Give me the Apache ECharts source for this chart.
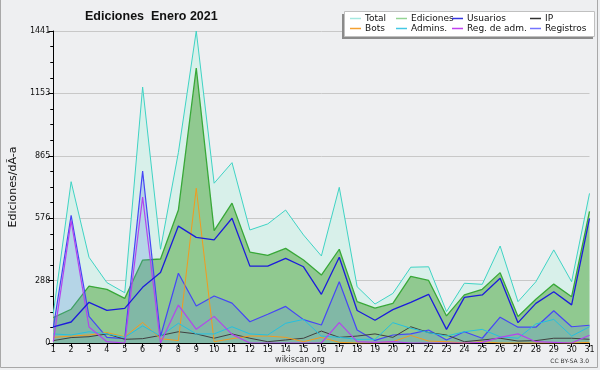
<!DOCTYPE html>
<html><head><meta charset="utf-8">
<script src="https://cdn.jsdelivr.net/npm/echarts@6/dist/echarts.min.js"></script>
<style>html,body{margin:0;padding:0;background:#eeeff1}#c{width:600px;height:370px}</style>
</head><body><div id="c"></div>
<script>
const days = ['1','2','3','4','5','6','7','8','9','10','11','12','13','14','15','16','17','18','19','20','21','22','23','24','25','26','27','28','29','30','31'];
const yTicks = [0, 288, 576, 865, 1153, 1441];
const total = [135, 745, 396, 279, 232, 1182, 433, 880, 1441, 738, 833, 522, 550, 614, 499, 402, 719, 260, 180, 229, 350, 352, 145, 276, 271, 448, 191, 283, 430, 283, 691];
const ediciones = [117, 156, 263, 248, 206, 383, 388, 614, 1270, 519, 646, 420, 405, 437, 383, 314, 433, 191, 161, 183, 308, 289, 125, 222, 248, 325, 122, 202, 272, 214, 608];
const usuarios = [75, 97, 188, 151, 160, 257, 326, 540, 488, 476, 576, 355, 355, 391, 352, 225, 396, 150, 105, 154, 188, 225, 63, 211, 222, 299, 94, 183, 237, 176, 576];
const ip = [11, 25, 29, 42, 17, 20, 35, 52, 42, 22, 42, 22, 6, 14, 22, 55, 26, 32, 42, 26, 75, 48, 37, 6, 14, 22, 9, 11, 22, 22, 17];
const bots = [26, 32, 37, 48, 29, 95, 20, 11, 715, 6, 20, 32, 32, 26, 6, 26, 3, 0, 0, 6, 35, 9, 6, 0, 6, 0, 0, 0, 0, 0, 3];
const admins = [42, 37, 52, 42, 26, 79, 32, 91, 42, 42, 75, 42, 37, 91, 109, 32, 26, 17, 17, 94, 68, 48, 32, 52, 63, 29, 22, 88, 109, 32, 75];
const regadm = [6, 565, 74, 6, 0, 674, 0, 175, 63, 123, 40, 0, 0, 0, 0, 0, 94, 6, 3, 6, 0, 0, 0, 0, 3, 26, 42, 6, 3, 0, 36];
const registros = [70, 590, 123, 26, 20, 794, 30, 322, 171, 217, 184, 98, 133, 169, 108, 83, 283, 60, 12, 37, 42, 60, 14, 52, 22, 119, 73, 73, 149, 75, 82];

const F = 'DejaVu Sans';
const chart = echarts.init(document.getElementById('c'), null, {renderer: 'canvas'});

function line(name, data, color, width, area, z) {
  const s = {name, type: 'line', data, symbol: 'none', z: z,
    lineStyle: {color, width}, itemStyle: {color}, emphasis: {disabled: true}};
  if (area) s.areaStyle = {color: area, opacity: 1};
  return s;
}

const legendDefs = [
  ['Total', '#a4e8e0', 350, 14],
  ['Ediciones', '#94d494', 396, 14],
  ['Usuarios', '#3434e0', 452, 14],
  ['IP', '#303030', 530, 14],
  ['Bots', '#f4a030', 350, 24],
  ['Admins.', '#44c8e4', 396, 24],
  ['Reg. de adm.', '#c040f0', 452, 24],
  ['Registros', '#7474ff', 530, 24]
];

const option = {
  animation: false,
  backgroundColor: '#eeeff1',
  grid: {left: 46.5, right: 10.5, top: 31, bottom: 27},
  legend: legendDefs.map(d => ({
    data: [{name: d[0], itemStyle: {color: d[1]}}],
    left: d[2], top: d[3], icon: 'rect', itemWidth: 11, itemHeight: 1.5, itemGap: 0,
    padding: 0, selectedMode: false, z: 20,
    textStyle: {fontFamily: F, fontSize: 9, color: '#111', padding: [0, 0, 0, -1]}
  })),
  xAxis: {
    type: 'category', data: days, boundaryGap: false,
    axisLine: {lineStyle: {color: '#000', width: 1}},
    axisTick: {show: true, length: 4, lineStyle: {color: '#000'}, interval: 0},
    axisLabel: {interval: 0, fontFamily: F, fontSize: 8, color: '#111', margin: 3},
    splitLine: {show: false}
  },
  yAxis: {
    type: 'value', min: 0, max: 1441, interval: 288.2,
    name: 'Ediciones/dÃ-a', nameLocation: 'middle', nameGap: 30, nameRotate: 90,
    nameTextStyle: {fontFamily: F, fontSize: 11, color: '#111'},
    axisLine: {show: true, lineStyle: {color: '#000', width: 1}},
    axisTick: {show: true, length: 5, lineStyle: {color: '#000'}},
    minorTick: {show: true, splitNumber: 4, length: 3, lineStyle: {color: '#000'}},
    axisLabel: {fontFamily: F, fontSize: 8, color: '#111', margin: 3,
      formatter: v => String(Math.round(v))},
    splitLine: {show: true, lineStyle: {color: '#c8c8c8', width: 1}}
  },
  series: [
    line('Total', total, '#3fd3c4', 1, '#d8f0ea', 1),
    line('Ediciones', ediciones, '#38a838', 1.3, '#90c990', 2),
    line('Registros', registros, '#4646f6', 1.2, 'rgba(88,140,225,0.27)', 3),
    line('IP', ip, '#404040', 1, null, 4),
    line('Bots', bots, '#f39a1e', 1, null, 4),
    line('Admins.', admins, '#24c0e0', 1, null, 4),
    line('Reg. de adm.', regadm, '#b444ee', 1.2, null, 5),
    line('Usuarios', usuarios, '#1c1cdc', 1.3, null, 6)
  ],
  graphic: [
    {type: 'rect', z: 100, shape: {x: 0.5, y: -1, width: 597, height: 368.5}, style: {fill: 'none', stroke: '#a8a8a8', lineWidth: 1}},
    {type: 'text', z: 100, left: 85, top: 10, style: {text: 'Ediciones  Enero 2021', font: 'bold 12.5px "Liberation Sans"', fill: '#111'}},
    {type: 'text', z: 100, left: 'center', top: 356, style: {text: 'wikiscan.org', font: '8px "DejaVu Sans"', fill: '#333'}},
    {type: 'text', z: 100, right: 11, top: 358, style: {text: 'CC BY-SA 3.0', font: '6px "DejaVu Sans"', fill: '#333'}},
    {type: 'rect', z: 15, shape: {x: 342, y: 14, width: 251, height: 25}, style: {fill: '#8a8a8a'}},
    {type: 'rect', z: 16, shape: {x: 344.5, y: 11.5, width: 250, height: 25}, style: {fill: '#ffffff', stroke: '#c0c0c0', lineWidth: 1}}
  ]
};
chart.setOption(option);
</script></body></html>
